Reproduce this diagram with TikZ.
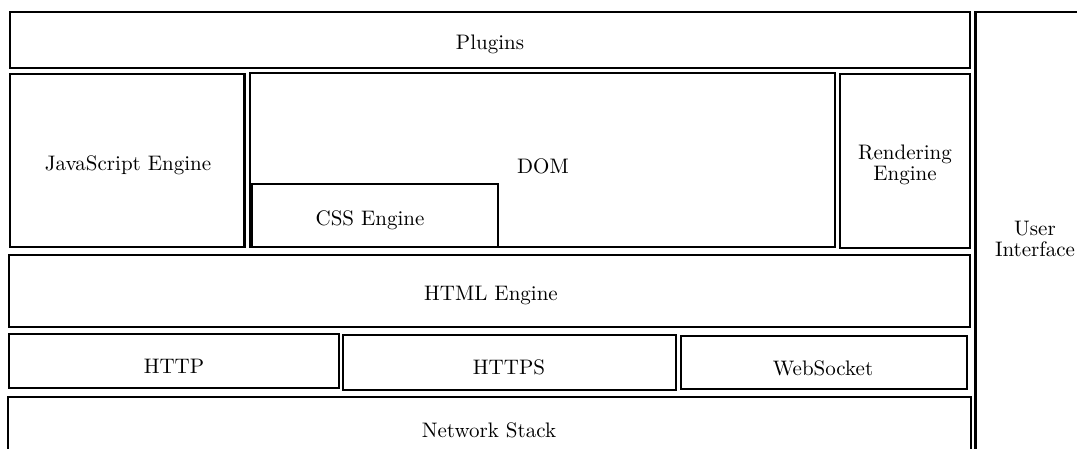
\documentclass[tikz,border=0pt]{standalone}
\begin{document}
\begin{tikzpicture}[x=0.5pt,y=-0.5pt,
  box/.style={draw=black,line width=1.4pt,fill=none},
  lbl/.style={inner sep=0pt,align=center,font=\fontsize{10.5}{10.5}\selectfont}]
\useasboundingbox (0,0) rectangle (1077,449);
\clip (0,0) rectangle (1077,449);
% boxes
\draw[box] (10,12) rectangle (970,68);
\draw[box] (10,74) rectangle (244.5,247);
\draw[box] (250,73) rectangle (835,247);
\draw[box] (252,184) rectangle (498,247);
\draw[box] (840,74) rectangle (970,248);
\draw[box] (9,255) rectangle (970,327);
\draw[box] (9,334) rectangle (339,388);
\draw[box] (343,335) rectangle (676,390);
\draw[box] (681,336) rectangle (967,389);
\draw[box] (8,397) rectangle (971,470);
\draw[box] (975.5,12) rectangle (1100,470);
% labels
\node[lbl] (plugins) at (490,44) {Plugins};
\node[lbl] (js) at (128,165) {JavaScript Engine};
\node[lbl] (dom) at (543,166) {DOM};
\node[lbl] (css) at (370,220) {CSS Engine};
\node[lbl] (render) at (905,165) {Rendering\\Engine};
\node[lbl] (html) at (491,295) {HTML Engine};
\node[lbl] (http) at (174,366) {HTTP};
\node[lbl] (https) at (509,367) {HTTPS};
\node[lbl] (ws) at (823,368) {WebSocket};
\node[lbl] (net) at (489,430) {Network Stack};
\node[lbl] (ui) at (1035,239) {User\\Interface};
\end{tikzpicture}
\end{document}
